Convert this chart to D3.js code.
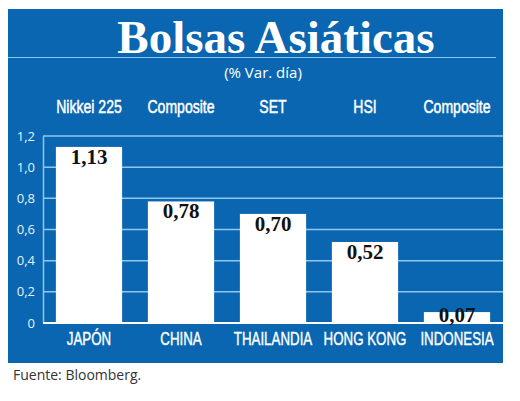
<!DOCTYPE html>
<html><head><meta charset="utf-8">
<script src="https://cdn.jsdelivr.net/npm/d3@7"></script>
<style>body{margin:0;background:#fff}svg{display:block}</style>
</head><body>
<svg id="c" width="520" height="401"></svg>
<script>
const countries = ["JAPÓN","CHINA","THAILANDIA","HONG KONG","INDONESIA"];
const indices = ["Nikkei 225","Composite","SET","HSI","Composite"];
const values = [1.13, 0.78, 0.70, 0.52, 0.07];
const yTicks = [0, 0.2, 0.4, 0.6, 0.8, 1.0, 1.2];

const blue = "#0a66b0", grid = "#8ec8f0";
const svg = d3.select("#c");
const fmt = v => d3.format(".2f")(v).replace(".", ",");
const fmtT = v => v === 0 ? "0" : d3.format(".1f")(v).replace(".", ",");

svg.append("rect").attr("x",8).attr("y",9).attr("width",495).attr("height",354).attr("fill",blue);
svg.append("text").attr("x",276).attr("y",53).attr("text-anchor","middle")
  .attr("font-family","Liberation Serif, serif").attr("font-weight","bold").attr("font-size",47)
  .attr("fill","#fff").text("Bolsas Asiáticas");
svg.append("line").attr("x1",8).attr("x2",496).attr("y1",57.5).attr("y2",57.5).attr("stroke",grid).attr("stroke-width",1.2);
svg.append("text").attr("x",263).attr("y",78).attr("text-anchor","middle")
  .attr("font-family","Open Sans, sans-serif").attr("font-size",15).attr("fill","#fff").text("(% Var. día)");

const x = d3.scaleBand().domain(countries).range([43,503]).paddingInner(0.28).paddingOuter(0.14);
const y = d3.scaleLinear().domain([0,1.2]).range([323,136]);

const g = svg.append("g");
g.selectAll("line.grid").data(yTicks).join("line").attr("class","grid")
  .attr("x1",43).attr("x2",503).attr("y1",d=>y(d)).attr("y2",d=>y(d))
  .attr("stroke",grid).attr("stroke-width",1.5);
g.append("line").attr("x1",43.5).attr("x2",43.5).attr("y1",y(1.2)).attr("y2",y(0)).attr("stroke",grid).attr("stroke-width",1.5);
g.selectAll("text.tick").data(yTicks).join("text").attr("class","tick")
  .attr("x",35).attr("y",d=>y(d)+4.5).attr("text-anchor","end")
  .attr("font-family","Open Sans, sans-serif").attr("font-size",13).attr("fill","#e8f2fb").text(fmtT);

g.selectAll("rect.bar").data(values).join("rect").attr("class","bar")
  .attr("x",(d,i)=>x(countries[i])).attr("width",x.bandwidth())
  .attr("y",d=>y(d)).attr("height",d=>y(0)-y(d)).attr("fill","#fff");
g.append("line").attr("x1",43).attr("x2",503).attr("y1",y(0)).attr("y2",y(0)).attr("stroke","#fff").attr("stroke-width",2);

g.selectAll("text.val").data(values).join("text").attr("class","val")
  .attr("x",(d,i)=>x(countries[i])+x.bandwidth()/2).attr("y",d=>Math.min(y(d)+17, y(0)-1))
  .attr("text-anchor","middle").attr("font-family","Liberation Serif, serif").attr("font-weight","bold")
  .attr("font-size",21).attr("fill","#111").text(fmt);

const cond = "Liberation Sans, Arial, sans-serif";
g.selectAll("text.idx").data(indices).join("text").attr("class","idx")
  .attr("transform",(d,i)=>`translate(${x(countries[i])+x.bandwidth()/2},113) scale(0.74,1)`)
  .attr("text-anchor","middle").attr("font-family",cond).attr("font-size",19)
  .attr("fill","#fff").attr("stroke","#fff").attr("stroke-width",0.5).text(d=>d);
g.selectAll("text.cat").data(countries).join("text").attr("class","cat")
  .attr("transform",d=>`translate(${x(d)+x.bandwidth()/2},345) scale(0.74,1)`)
  .attr("text-anchor","middle").attr("font-family",cond).attr("font-size",18)
  .attr("fill","#fff").attr("stroke","#fff").attr("stroke-width",0.4).text(d=>d);

svg.append("text").attr("x",13).attr("y",380).attr("font-family","Open Sans, sans-serif")
  .attr("font-size",14).attr("fill","#333").text("Fuente: Bloomberg.");
</script>
</body></html>
